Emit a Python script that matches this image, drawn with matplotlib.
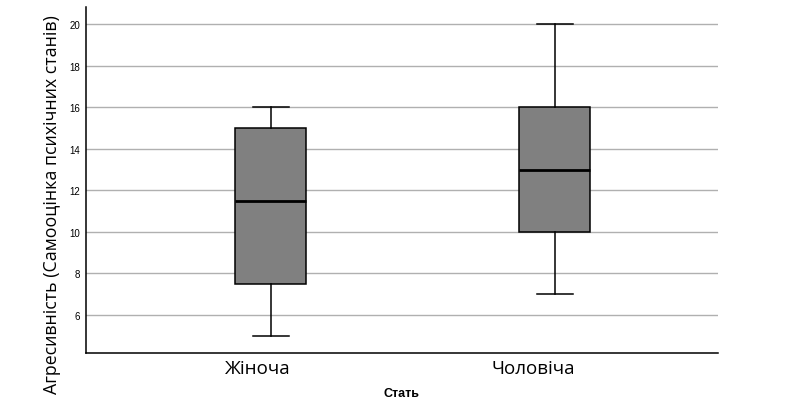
import matplotlib
matplotlib.use("Agg")
import matplotlib.pyplot as plt
from matplotlib.transforms import ScaledTranslation

# data
groups = ["Жіноча", "Чоловіча"]
whisker_low = [5, 7]
q1 = [7.5, 10]
median = [11.5, 13]
q3 = [15, 16]
whisker_high = [16, 20]
y_ticks = [6, 8, 10, 12, 14, 16, 18, 20]

stats = []
for name, lo, a, m, b, hi in zip(groups, whisker_low, q1, median, q3, whisker_high):
    stats.append(dict(label=name, whislo=lo, q1=a, med=m, q3=b, whishi=hi, fliers=[]))

fig = plt.figure(figsize=(7.88, 4.10), dpi=100)
ax = fig.add_axes([86 / 788, 56 / 410, 632 / 788, 346 / 410])

ax.bxp(
    stats,
    positions=[0, 1],
    widths=0.25,
    patch_artist=True,
    showfliers=False,
    boxprops=dict(facecolor="#808080", edgecolor="black", linewidth=1.1),
    medianprops=dict(color="black", linewidth=2),
    whiskerprops=dict(color="black", linewidth=1.1),
    capprops=dict(color="black", linewidth=1.1),
)

ax.set_xlim(-0.651, 1.574)
ax.set_ylim(4.17, 20.83)
ax.set_yticks(y_ticks)
ax.set_yticklabels([str(t) for t in y_ticks], fontsize=7, family="Liberation Sans")
ax.set_xticks([0, 1])
ax.set_xticklabels(groups, fontsize=13.5, family="Open Sans")
ax.tick_params(axis="y", length=0, pad=4)
ax.tick_params(axis="x", length=0, pad=4)

# category labels sit right-aligned a bit past the box centre, like SPSS output
shift = ScaledTranslation(20 / 100, 0, fig.dpi_scale_trans)
for lab in ax.get_xticklabels():
    lab.set_horizontalalignment("right")
    lab.set_transform(lab.get_transform() + shift)

ax.yaxis.grid(True, color="#b0b0b0", linewidth=1)
ax.set_axisbelow(True)
for side in ["top", "right"]:
    ax.spines[side].set_visible(False)
ax.spines["left"].set_linewidth(1.1)
ax.spines["bottom"].set_linewidth(1.1)

fig.text(402 / 788, 1 - 394 / 410, "Стать", ha="center", va="center",
         fontsize=9, fontweight="bold", family="Liberation Sans")
fig.text(52 / 788, 1 - 205 / 410, "Агресивність (Самооцінка психічних станів)",
         rotation=90, ha="center", va="center", fontsize=12.8, family="Open Sans")

fig.savefig("out.png", dpi=100)
